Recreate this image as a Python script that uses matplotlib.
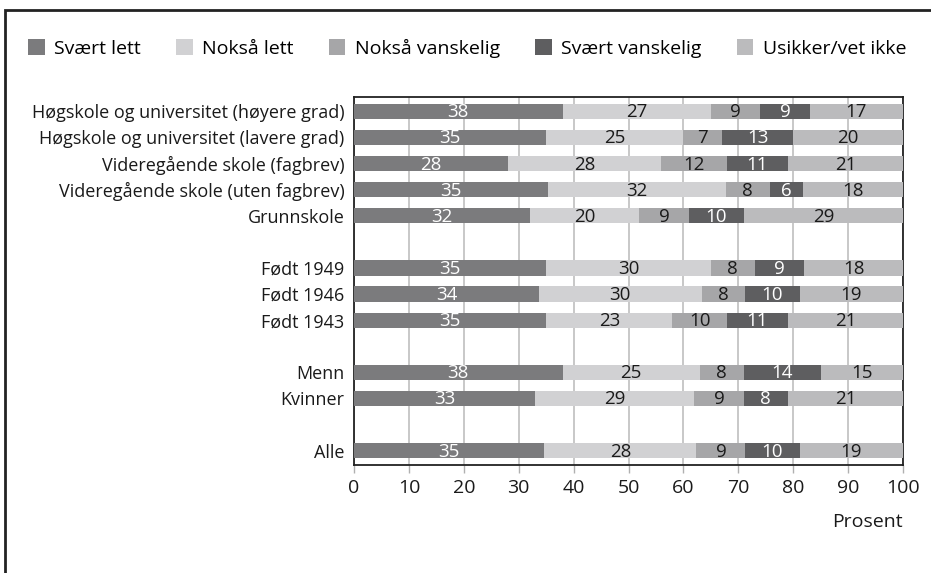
import matplotlib
matplotlib.use("Agg")
import matplotlib.pyplot as plt
import matplotlib.patches as mpatches
import numpy as np

plt.rcParams['font.family'] = ['Open Sans', 'DejaVu Sans']

##### DATA #####
categories = [
    "Høgskole og universitet (høyere grad)",
    "Høgskole og universitet (lavere grad)",
    "Videregående skole (fagbrev)",
    "Videregående skole (uten fagbrev)",
    "Grunnskole",
    "Født 1949",
    "Født 1946",
    "Født 1943",
    "Menn",
    "Kvinner",
    "Alle",
]
series_names = ["Svært lett", "Nokså lett", "Nokså vanskelig", "Svært vanskelig", "Usikker/vet ikke"]

svaert_lett      = [38, 35, 28, 35, 32, 35, 34, 35, 38, 33, 35]
noksaa_lett      = [27, 25, 28, 32, 20, 30, 30, 23, 25, 29, 28]
noksaa_vanskelig = [9, 7, 12, 8, 9, 8, 8, 10, 8, 9, 9]
svaert_vanskelig = [9, 13, 11, 6, 10, 9, 10, 11, 14, 8, 10]
usikker          = [17, 20, 21, 18, 29, 18, 19, 21, 15, 21, 19]

x_ticks = [0, 10, 20, 30, 40, 50, 60, 70, 80, 90, 100]

##### STYLE #####
colors = ["#7b7b7d", "#d1d1d3", "#a6a6a8", "#5e5e60", "#bbbbbd"]
label_colors = ["white", "#1a1a1a", "#1a1a1a", "white", "#1a1a1a"]
# row positions: groups separated by an empty slot
y_pos = [0, 1, 2, 3, 4, 6, 7, 8, 10, 11, 13]

fig = plt.figure(figsize=(9.31, 5.73), dpi=100)
ax = fig.add_axes([354 / 931, 1 - 465 / 573, 549 / 931, 368 / 573])

data = np.array([svaert_lett, noksaa_lett, noksaa_vanskelig, svaert_vanskelig, usikker], dtype=float)
# bars in the source are drawn to fill 100 % even when rounded labels do not sum to 100
totals = data.sum(axis=0)
widths = data / totals * 100

left = np.zeros(len(categories))
for i in range(len(series_names)):
    ax.barh(y_pos, widths[i], left=left, height=0.58, color=colors[i],
            label=series_names[i], zorder=3)
    for j, y in enumerate(y_pos):
        ax.text(left[j] + widths[i][j] / 2, y + 0.04, str(int(data[i][j])),
                ha="center", va="center", fontsize=13.5, color=label_colors[i], zorder=4)
    left += widths[i]

ax.set_xlim(0, 100)
ax.set_ylim(13.55, -0.55)
ax.set_xticks(x_ticks)
ax.set_xticklabels([str(t) for t in x_ticks], fontsize=14, color="#1a1a1a")
ax.set_yticks(y_pos)
ax.set_yticklabels(categories, fontsize=13, color="#1a1a1a")
ax.tick_params(axis="y", length=0, pad=7)
ax.tick_params(axis="x", length=6, width=1, color="#b0b0b0", pad=4)
ax.grid(axis="x", color="#c8c8c8", linewidth=1.4, zorder=0)
for s in ax.spines.values():
    s.set_color("#222222")
    s.set_linewidth(1.3)

fig.text(903 / 931, 1 - 522 / 573, "Prosent", ha="right", va="center", fontsize=14, color="#1a1a1a")

fig.legend(loc="center left", bbox_to_anchor=(28 / 931, 1 - 48 / 573), ncol=5, frameon=False,
           fontsize=14, handlelength=0.85, handleheight=0.85, handletextpad=0.5,
           columnspacing=1.8, borderaxespad=0, borderpad=0)

# outer frame (open at right and bottom edges)
frame = mpatches.Rectangle((5 / 931, -0.1), 2, 1 - 10 / 573 + 0.1, transform=fig.transFigure,
                           fill=False, edgecolor="#222222", linewidth=2, clip_on=False)
fig.patches.append(frame)

fig.savefig("out.png", dpi=100)
